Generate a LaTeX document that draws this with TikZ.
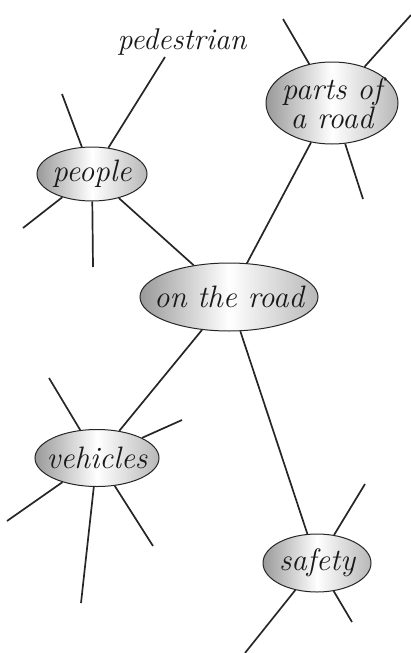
\documentclass[tikz,border=0pt]{standalone}
\usetikzlibrary{shapes.geometric}
\begin{document}
\begin{tikzpicture}[x=1pt,y=-1pt,
  bubble/.style={ellipse,draw=black!85,line width=1pt,inner sep=0pt,
    left color=black!40,right color=black!28,middle color=white},
  txt/.style={font=\fontsize{31}{26}\selectfont\itshape,text=black!90,inner sep=0pt,align=center},
  spoke/.style={draw=black!85,line width=1.7pt},
  lbl/.style={font=\fontsize{30}{30}\selectfont\itshape,text=black!90,inner sep=0pt}]
\useasboundingbox (0,0) rectangle (411,653);
% nodes
\node[bubble,minimum width=178pt,minimum height=68pt] (road) at (229,297) {};
\node[bubble,minimum width=110pt,minimum height=54pt] (people) at (92,174) {};
\node[bubble,minimum width=132pt,minimum height=82pt] (parts) at (332,103) {};
\node[bubble,minimum width=124pt,minimum height=57pt] (veh) at (97,458) {};
\node[bubble,minimum width=108pt,minimum height=58pt] (safe) at (317,563) {};
\node[txt] (roadt) at (road) {on the road};
\node[txt] (peoplet) at (people) {people};
\node[txt] (partst) at (parts) {parts of\\a road};
\node[txt] (veht) at (veh) {vehicles};
\node[txt] (safet) at (safe) {safety};
\node[lbl] (ped) at (182,42) {pedestrian};
% spoke ends
\coordinate (pedend) at (165,57);
\coordinate (p1) at (62,94);
\coordinate (p2) at (23,228);
\coordinate (p3) at (93,267);
\coordinate (r1) at (283,19);
\coordinate (r2) at (411,15);
\coordinate (r3) at (363,199);
\coordinate (v1) at (49,378);
\coordinate (v2) at (182,420);
\coordinate (v3) at (7,521);
\coordinate (v4) at (81,603);
\coordinate (v5) at (153,546);
\coordinate (s1) at (365,484);
\coordinate (s2) at (245,653);
\coordinate (s3) at (352,622);
% connectors
\path[spoke] (people) -- (road);
\path[spoke] (parts) -- (road);
\path[spoke] (road) -- (veh);
\path[spoke] (road) -- (safe);
\path[spoke] (people) -- (pedend);
\path[spoke] (people) -- (p1);
\path[spoke] (people) -- (p2);
\path[spoke] (people) -- (p3);
\path[spoke] (parts) -- (r1);
\path[spoke] (parts) -- (r2);
\path[spoke] (parts) -- (r3);
\path[spoke] (veh) -- (v1);
\path[spoke] (veh) -- (v2);
\path[spoke] (veh) -- (v3);
\path[spoke] (veh) -- (v4);
\path[spoke] (veh) -- (v5);
\path[spoke] (safe) -- (s1);
\path[spoke] (safe) -- (s2);
\path[spoke] (safe) -- (s3);
\end{tikzpicture}
\end{document}
